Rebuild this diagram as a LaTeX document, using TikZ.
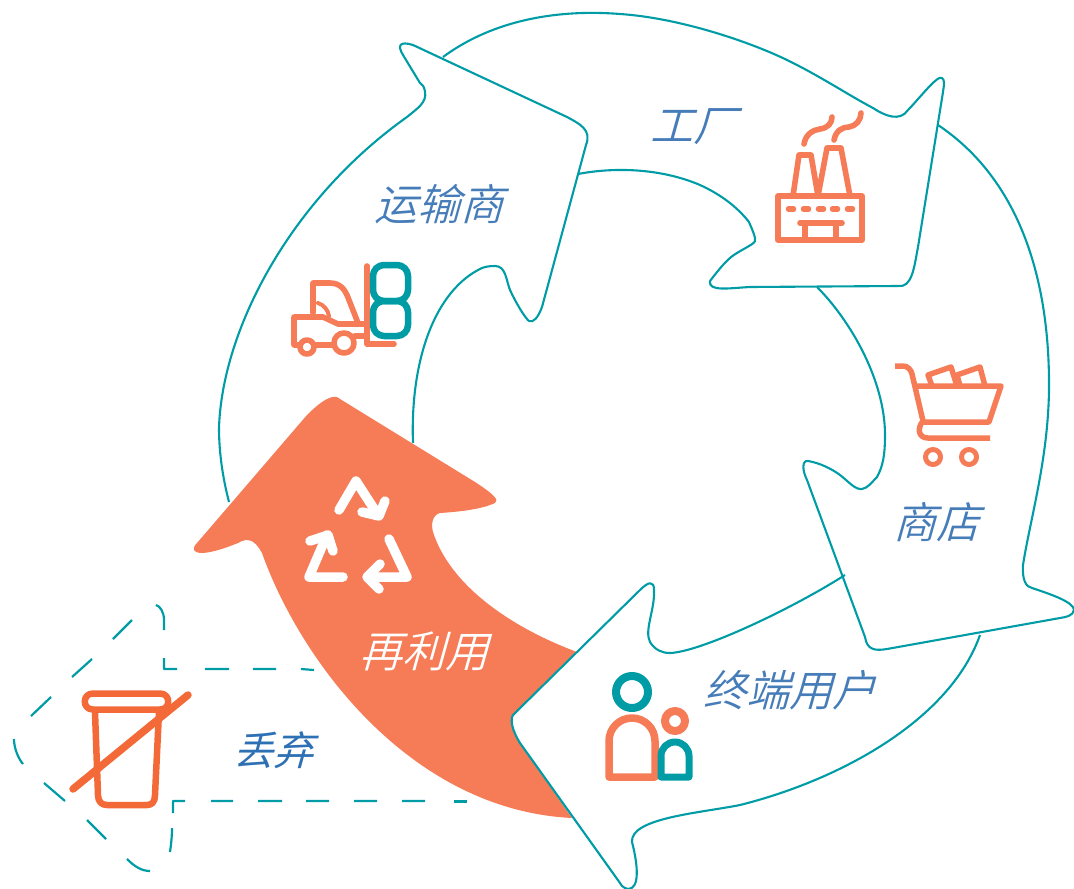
\documentclass[tikz,border=0pt]{standalone}
\usepackage{fontspec}
\newfontfamily\cjk[FakeSlant=0.28]{Noto Sans CJK SC DemiLight}
\newfontfamily\cjkreg[FakeSlant=0.28]{Noto Sans CJK SC}
\definecolor{teal1}{RGB}{0,156,166}
\definecolor{org}{RGB}{246,123,87}
\definecolor{org2}{RGB}{243,106,56}
\definecolor{lab}{RGB}{70,125,185}
\definecolor{lab2}{RGB}{46,112,180}
\tikzset{
  flow/.style={draw=teal1,line width=2.1pt,line join=round},
  ico/.style={draw=org,line width=5.6pt,line join=round,line cap=round},
  icot/.style={draw=teal1,line width=7pt,line join=round,line cap=round},
  rec/.style={draw=white,line width=9.5pt,line join=round,line cap=round},
  cup/.style={draw=org2,line width=6.5pt,line join=round,line cap=round},
  lbl/.style={font=\cjk\fontsize{43}{43}\selectfont,text=lab,inner sep=0pt},
}
\begin{document}
\begin{tikzpicture}[x=1pt,y=-1pt]
\useasboundingbox (0,0) rectangle (1074,889);
% transporter outline sits under the orange arrow
\draw[flow] (229,502) .. controls (222,475) and (219,450) .. (219,428)
  .. controls (222,330) and (290,200) .. (407,117)
  .. controls (418,108) and (427,102) .. (425,92)
  .. controls (424,85) and (422,85) .. (420,83)
  -- (403,55) .. controls (397,45) and (400,41) .. (413,45)
  -- (567,117) .. controls (580,124) and (592,130) .. (586,145)
  -- (542,307) .. controls (538,318) and (533,323) .. (529,321)
  .. controls (525,318) and (516,303) .. (510,290)
  .. controls (506,280) and (506,266) .. (495,266)
  .. controls (488,266) and (485,267) .. (482,268)
  .. controls (435,290) and (410,360) .. (413,443);
% orange arrow
\fill[org] (577,652) .. controls (510,627) and (450,585) .. (433,532)
  .. controls (431,525) and (432,515) .. (440,513)
  .. controls (455,512) and (480,510) .. (495,503)
  .. controls (499,500) and (495,495) .. (475,482)
  -- (340,399) .. controls (335,394) and (325,397) .. (307,415)
  -- (197,543) .. controls (192,548) and (192,553) .. (203,553)
  .. controls (215,552) and (228,547) .. (238,543)
  .. controls (248,537) and (255,540) .. (262,553)
  .. controls (300,660) and (410,810) .. (572,818)
  -- (520,743) .. controls (512,730) and (510,720) .. (513,715) -- cycle;
% flow outlines
\draw[flow] (443,57) .. controls (500,15) and (570,10) .. (620,14)
  .. controls (680,18) and (750,42) .. (787,60)
  .. controls (820,76) and (850,96) .. (873,108)
  .. controls (885,116) and (900,122) .. (908,110)
  .. controls (918,100) and (938,74) .. (942,78)
  .. controls (945,80) and (944,85) .. (943,92)
  -- (918,247) .. controls (914,268) and (912,288) .. (898,286)
  -- (750,287) .. controls (730,288) and (708,292) .. (710,281)
  .. controls (720,268) and (728,258) .. (737,253)
  .. controls (750,245) and (757,243) .. (755,238)
  .. controls (753,230) and (750,225) .. (749,222)
  .. controls (738,208) and (722,195) .. (700,185)
  .. controls (665,170) and (620,166) .. (578,174);
\draw[flow] (938,125) .. controls (1020,180) and (1050,280) .. (1049,390)
  .. controls (1048,460) and (1030,520) .. (1023,565)
  .. controls (1022,580) and (1026,587) .. (1032,588)
  .. controls (1050,594) and (1074,602) .. (1074,610)
  .. controls (1073,616) and (1066,617) .. (1060,618)
  -- (887,649) .. controls (875,651) and (867,650) .. (865,637)
  -- (807,480) .. controls (802,470) and (802,460) .. (808,461)
  .. controls (820,463) and (832,469) .. (840,475)
  .. controls (848,481) and (855,490) .. (862,489)
  .. controls (868,488) and (872,482) .. (877,477)
  .. controls (883,466) and (885,455) .. (885,435)
  .. controls (885,380) and (850,320) .. (817,287);
\draw[flow] (980,635) .. controls (950,720) and (840,780) .. (740,805)
  .. controls (700,813) and (630,818) .. (632,842)
  .. controls (638,865) and (640,889) .. (628,889)
  .. controls (623,888) and (621,885) .. (620,883)
  -- (520,743) .. controls (512,730) and (510,720) .. (513,715)
  -- (640,590) .. controls (648,582) and (654,580) .. (654,590)
  .. controls (655,610) and (644,630) .. (650,642)
  .. controls (655,650) and (662,653) .. (670,653)
  .. controls (700,652) and (790,610) .. (845,575);
% dashed discard arrow, dash by dash
\draw[flow,line width=2.2pt]
  (314,670) -- (301,669) (276,669) -- (253,669) (229,669) -- (205,669)
  (177,669) -- (164,669) -- (164,658)
  (164,630) -- (164,620) .. controls (164,612) and (160,606) .. (156,605)
  (132,620) -- (113,639) (92,659) -- (72,677) (51,697) -- (31,716)
  (14,739) .. controls (14,748) and (18,758) .. (23,764)
  (44,783) -- (65,801) (87,820) -- (106,839)
  (127,859) .. controls (135,867) and (142,871) .. (150,871)
  (170,852) .. controls (171,845) and (172,837) .. (172,828)
  (173,813) -- (173,801) -- (185,801)
  (211,801) -- (233,801) (258,801) -- (282,801) (306,801) -- (329,801)
  (354,801) -- (377,801) (402,801) -- (425,801);
\draw[flow,line width=3pt] (454,801) -- (467,801);
% forklift
\draw[ico] (367,266) -- (367,344) -- (394,344);
\draw[ico] (313,313) -- (313,283) -- (330,283) .. controls (342,283) and (346,292) .. (349,300) -- (358,323);
\draw[ico] (300,345) -- (294,345) -- (294,317) -- (323,317) -- (338,324) -- (367,324);
\draw[ico] (316,345) -- (333,345);
\draw[ico] (355,336) -- (367,336);
\draw[ico,line width=4pt] (318,303) .. controls (324,305) and (328,310) .. (329,316);
\draw[ico] (307,347) circle (7);
\draw[ico] (344,343) circle (10);
\draw[icot,line width=6.5pt,rounded corners=11pt] (373,265) rectangle (408,301);
\draw[icot,line width=6.5pt,rounded corners=11pt] (373,301) rectangle (408,336);
% factory
\draw[ico] (778,196) rectangle (862,240);
\draw[ico] (793,196) -- (799,155) -- (811,155) -- (818,196) -- (827,148) -- (841,148) -- (850,196);
\draw[ico] (800,223) -- (842,223);
\draw[ico] (805,223) -- (805,240);
\draw[ico] (836,223) -- (836,240);
\foreach \dx in {791,806,821,835,850}{\draw[ico,line width=5.5pt] (\dx-2.5,209) -- (\dx+2.5,209);}
\draw[ico] (804,144) .. controls (806,133) and (814,130) .. (820,129) .. controls (828,128) and (832,123) .. (832,117);
\draw[ico] (834,140) .. controls (836,130) and (843,127) .. (849,127) .. controls (856,126) and (861,120) .. (861,113);
% cart
\draw[ico,line width=5.5pt,line cap=butt] (895,366) -- (903,366) .. controls (908,366) and (911,370) .. (912,374) -- (923,421) .. controls (917,428) and (918,438) .. (928,438) -- (990,438);
\draw[ico,line width=5.5pt,line cap=butt] (915,386) -- (1001,386) -- (989,422) -- (923,422);
\draw[ico,line width=5.5pt,line cap=butt] (932,386) -- (928,375) -- (951,367) -- (957,386);
\draw[ico,line width=5.5pt,line cap=butt] (960,386) -- (957,375) -- (980,367) -- (985,386);
\draw[ico,line width=5pt] (933,457) circle (7.5);
\draw[ico,line width=5pt] (969,457) circle (7.5);
% people
\draw[icot,line width=8pt] (632,692) circle (16);
\draw[ico,line width=7.5pt] (609,777) -- (609,741) arc[start angle=180,end angle=360,radius=23] -- (655,777) -- cycle;
\draw[ico,line width=8pt] (675,721) circle (10);
\draw[icot] (661,777) -- (661,756) arc[start angle=180,end angle=360,radius=14] -- (689,777) -- cycle;
% recycle
\draw[rec] (339,510) -- (356,481) -- (378,515);
\draw[rec] (362,512) -- (379,516) -- (385,501);
\draw[rec] (343,577) -- (309,577) -- (327,535);
\draw[rec] (310,541) -- (328,535) -- (333,551);
\draw[rec] (389,539) -- (407,577) -- (369,577);
\draw[rec] (380,564) -- (367,577) -- (379,589);
% cup
\draw[cup] (93,693.5) -- (160,693.5) .. controls (171,693.5) and (171,709.5) .. (160,709.5) -- (93,709.5) .. controls (82,709.5) and (82,693.5) .. (93,693.5) -- cycle;
\draw[cup,line cap=butt] (95,712) -- (98,795) .. controls (98,802) and (102,805) .. (107,805) -- (147,805) .. controls (152,805) and (155,802) .. (155,795) -- (159,712);
\draw[cup,line width=7.5pt,line cap=round] (73,789) -- (188,695);
% labels
\node[lbl] (yunshu) at (439,204) {运输商};
\node[lbl] (gongchang) at (693,127) {工厂};
\node[lbl] (shangdian) at (936,522) {商店};
\node[lbl] (zhongduan) at (789,690) {终端用户};
\node[lbl,text=white] (zailiyong) at (424,651) {再利用};
\node[lbl,text=lab2,font=\cjkreg\fontsize{40}{40}\selectfont] (diuqi) at (273,750) {丢弃};
\end{tikzpicture}
\end{document}
